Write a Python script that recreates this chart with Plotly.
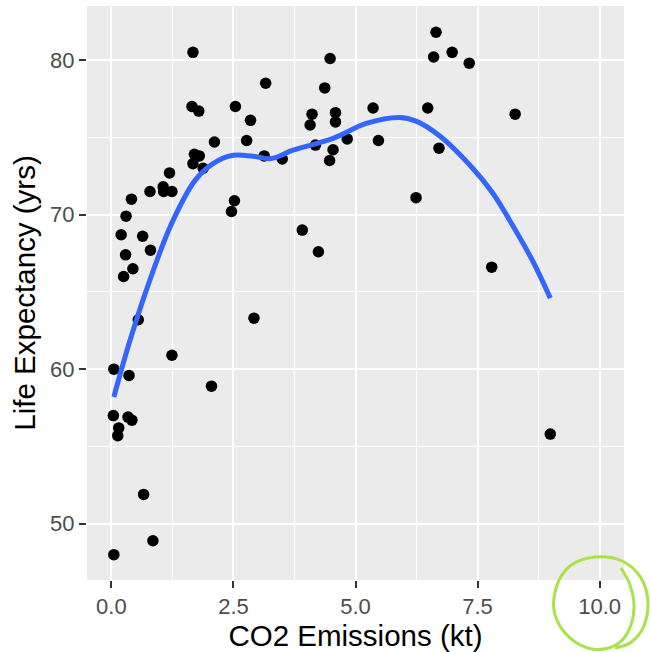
import plotly.graph_objects as go

# CO2 emissions per capita (kt) and life expectancy (years) per country
co2_kt = [
    0.05, 0.85, 0.66, 0.04, 0.34, 0.42, 0.15, 0.13, 0.36, 0.05,
    0.55, 1.24, 0.25, 0.44, 0.29, 0.80, 0.20, 0.64, 0.30, 0.41,
    0.79, 1.06, 1.07, 1.24, 1.19, 1.67, 1.65, 1.79, 2.54, 3.16,
    2.85, 2.11, 2.77, 1.70, 1.80, 1.67, 1.88, 3.13, 3.50, 2.52,
    2.46, 3.91, 4.24, 2.92, 2.05, 4.48, 4.37, 4.11, 4.07, 4.59,
    4.59, 4.18, 4.54, 4.47, 4.83, 5.36, 5.47, 6.24, 6.65, 6.60,
    6.98, 7.33, 6.48, 6.71, 8.27, 7.79, 8.99,
]
life_exp = [
    48.0, 48.9, 51.9, 57.0, 56.9, 56.7, 56.2, 55.7, 59.6, 60.0,
    63.2, 60.9, 66.0, 66.5, 67.4, 67.7, 68.7, 68.6, 69.9, 71.0,
    71.5, 71.8, 71.5, 71.5, 72.7, 80.5, 77.0, 76.7, 77.0, 78.5,
    76.1, 74.7, 74.8, 73.9, 73.8, 73.3, 73.0, 73.8, 73.6, 70.9,
    70.2, 69.0, 67.6, 63.3, 58.9, 80.1, 78.2, 76.5, 75.8, 76.6,
    76.0, 74.5, 74.2, 73.5, 74.9, 76.9, 74.8, 71.1, 81.8, 80.2,
    80.5, 79.8, 76.9, 74.3, 76.5, 66.6, 55.8,
]

# Smoothed trend (loess) through the scatter
smooth_x = [0.05, 0.38, 0.78, 1.23, 1.71, 2.08, 2.49, 2.90, 3.27, 3.72,
            4.54, 5.22, 5.90, 6.24, 6.72, 7.40, 7.81, 8.22, 8.63, 8.99]
smooth_y = [58.2, 61.85, 65.7, 69.4, 72.2, 73.3, 73.84, 73.78, 73.63, 74.17,
            74.93, 75.9, 76.29, 76.05, 75.1, 73.0, 71.4, 69.3, 67.0, 64.6]

x_ticks = [0, 2.5, 5, 7.5, 10]
x_tick_labels = ["0.0", "2.5", "5.0", "7.5", "10.0"]
y_ticks = [50, 60, 70, 80]
y_tick_labels = ["50", "60", "70", "80"]

FONT = "Liberation Sans, Arial, Helvetica, sans-serif"
W, H = 650, 652
M_L, M_R, M_T, M_B = 87, 26, 6, 72

fig = go.Figure()
fig.add_trace(go.Scatter(
    x=co2_kt, y=life_exp, mode="markers",
    marker=dict(color="black", size=11.5, line=dict(width=0)),
    hoverinfo="x+y",
))
fig.add_trace(go.Scatter(
    x=smooth_x, y=smooth_y, mode="lines",
    line=dict(color="#3366FF", width=5, shape="spline", smoothing=1.0),
    hoverinfo="skip",
))


def px_to_paper(px, py):
    pw = W - M_L - M_R
    ph = H - M_T - M_B
    return (px - M_L) / pw, (H - M_B - py) / ph


def smooth_path(points):
    # Catmull-Rom through the pixel points, emitted as cubic beziers in paper units
    pts = [points[0]] + list(points) + [points[-1]]
    x0, y0 = px_to_paper(*points[0])
    d = f"M {x0:.4f},{y0:.4f}"
    for i in range(1, len(pts) - 2):
        p0, p1, p2, p3 = pts[i - 1], pts[i], pts[i + 1], pts[i + 2]
        c1 = (p1[0] + (p2[0] - p0[0]) / 6, p1[1] + (p2[1] - p0[1]) / 6)
        c2 = (p2[0] - (p3[0] - p1[0]) / 6, p2[1] - (p3[1] - p1[1]) / 6)
        segs = [px_to_paper(*c1), px_to_paper(*c2), px_to_paper(*p2)]
        d += " C " + " ".join(f"{a:.4f},{b:.4f}" for a, b in segs)
    return d


# hand-drawn highlight ring around the last x tick label
ring = [
    (621, 568), (630, 585), (634, 608), (628, 632), (614, 646),
    (592, 649), (570, 638), (555, 615), (556, 588), (570, 566),
    (595, 557), (622, 561), (641, 578), (648, 603), (643, 628),
    (630, 643), (615, 648),
]

fig.update_layout(
    width=W, height=H,
    margin=dict(l=M_L, r=M_R, t=M_T, b=M_B),
    paper_bgcolor="white",
    plot_bgcolor="#EBEBEB",
    showlegend=False,
    font=dict(family=FONT),
    shapes=[dict(
        type="path", xref="paper", yref="paper",
        path=smooth_path(ring),
        line=dict(color="#A8E34A", width=3),
        layer="above",
    )],
    xaxis=dict(
        range=[-0.5, 10.5],
        tickmode="array", tickvals=x_ticks, ticktext=x_tick_labels,
        ticks="outside", ticklen=7, tickwidth=2, tickcolor="#333333",
        tickfont=dict(size=22, color="#4D4D4D", family=FONT),
        showgrid=True, gridcolor="white", gridwidth=2,
        minor=dict(tick0=0, dtick=1.25, showgrid=True, gridcolor="white",
                   gridwidth=1, ticks=""),
        zeroline=False, showline=False,
        title=dict(text="CO2 Emissions (kt)",
                   font=dict(size=29.5, color="black", family=FONT),
                   standoff=5),
    ),
    yaxis=dict(
        range=[46.36, 83.5],
        tickmode="array", tickvals=y_ticks, ticktext=y_tick_labels,
        ticks="outside", ticklen=7, tickwidth=2, tickcolor="#333333",
        tickfont=dict(size=22, color="#4D4D4D", family=FONT),
        showgrid=True, gridcolor="white", gridwidth=2,
        minor=dict(tick0=45, dtick=5, showgrid=True, gridcolor="white",
                   gridwidth=1, ticks=""),
        zeroline=False, showline=False,
        title=dict(text="Life Expectancy (yrs)",
                   font=dict(size=29.5, color="black", family=FONT),
                   standoff=5),
    ),
)

fig.write_html("out.html")
